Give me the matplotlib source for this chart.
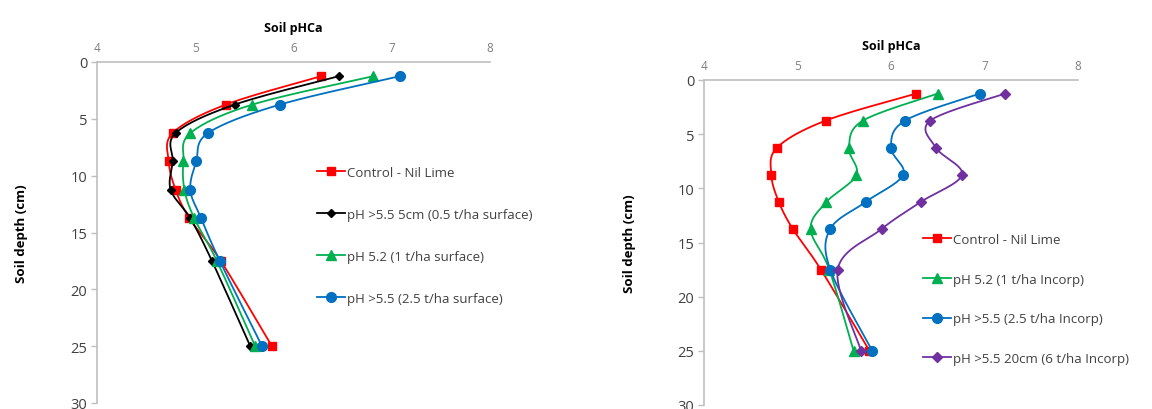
import numpy as np
import matplotlib
matplotlib.use("Agg")
import matplotlib.pyplot as plt
from matplotlib.lines import Line2D

plt.rcParams['font.family'] = ['Open Sans', 'DejaVu Sans']

# sampling depths (cm), shared by both panels
depth = [1.25, 3.75, 6.25, 8.75, 11.25, 13.75, 17.5, 25]

# left panel: surface applied lime
surf_labels = ['Control - Nil Lime', 'pH >5.5 5cm (0.5 t/ha surface)',
               'pH 5.2 (1 t/ha surface)', 'pH >5.5 (2.5 t/ha surface)']
surf_control = [6.28, 5.31, 4.77, 4.73, 4.80, 4.94, 5.26, 5.78]
surf_05 = [6.46, 5.40, 4.80, 4.77, 4.75, 4.95, 5.17, 5.56]
surf_1 = [6.81, 5.58, 4.95, 4.88, 4.89, 4.99, 5.22, 5.61]
surf_25 = [7.08, 5.86, 5.13, 5.01, 4.95, 5.06, 5.25, 5.68]

# right panel: incorporated lime
inc_labels = ['Control - Nil Lime', 'pH 5.2 (1 t/ha Incorp)',
              'pH >5.5 (2.5 t/ha Incorp)', 'pH >5.5 20cm (6 t/ha Incorp)']
inc_control = [6.27, 5.30, 4.78, 4.72, 4.80, 4.95, 5.25, 5.77]
inc_1 = [6.50, 5.70, 5.55, 5.63, 5.31, 5.14, 5.34, 5.60]
inc_25 = [6.95, 6.15, 6.00, 6.13, 5.73, 5.35, 5.35, 5.80]
inc_6 = [7.22, 6.42, 6.48, 6.76, 6.32, 5.90, 5.43, 5.68]

RED, BLACK, GREEN, BLUE, PURPLE = '#ff0000', '#000000', '#00b050', '#0070c0', '#7030a0'
SPINE = '#bfbfbf'


def smooth(x, y, sx, sy, n=30):
    """Catmull-Rom style smoothing in screen space, like Excel smoothed lines"""
    p = np.column_stack([np.array(x) * sx, np.array(y) * sy])
    p = np.vstack([p[0], p, p[-1]])
    out = []
    for i in range(1, len(p) - 2):
        p0, p1, p2, p3 = p[i - 1], p[i], p[i + 1], p[i + 2]
        c1 = p1 + (p2 - p0) / 6.0
        c2 = p2 - (p3 - p1) / 6.0
        t = np.linspace(0, 1, n)[:, None]
        seg = ((1 - t) ** 3) * p1 + 3 * ((1 - t) ** 2) * t * c1 + 3 * (1 - t) * t ** 2 * c2 + t ** 3 * p2
        out.append(seg)
    out = np.vstack(out)
    return out[:, 0] / sx, out[:, 1] / sy


def setup(ax):
    ax.set_xlim(4, 8)
    ax.set_ylim(30, 0)
    ax.xaxis.tick_top()
    ax.xaxis.set_label_position('top')
    ax.set_xticks([4, 5, 6, 7, 8])
    ax.set_yticks([0, 5, 10, 15, 20, 25, 30])
    for s in ['right', 'bottom']:
        ax.spines[s].set_visible(False)
    for s in ['top', 'left']:
        ax.spines[s].set_color(SPINE)
        ax.spines[s].set_linewidth(1.2)
    ax.tick_params(axis='x', length=0, pad=6, labelsize=8.5, labelcolor='#7f7f7f')
    ax.tick_params(axis='y', length=4, width=1, color=SPINE, pad=3, labelsize=10.5, labelcolor='#404040')
    ax.set_xlabel('Soil pHCa', fontsize=9, fontweight='bold', labelpad=7)
    ax.set_ylabel('Soil depth (cm)', fontsize=9.5, fontweight='bold')


def draw(ax, series, labels, styles, sx, sy):
    handles = []
    for vals, lab, (col, mk, ms) in zip(series, labels, styles):
        xs, ys = smooth(vals, depth, sx, sy)
        ax.plot(xs, ys, color=col, lw=1.3, clip_on=False)
        ax.plot(vals, depth, ls='none', marker=mk, ms=ms, color=col, clip_on=False)
        handles.append(Line2D([], [], color=col, lw=1.3, marker=mk, ms=ms))
    return handles


fig = plt.figure(figsize=(11.52, 4.10), dpi=100)

ax1 = fig.add_axes([97 / 1152, 1 - 404 / 410, 393 / 1152, 341 / 410])
setup(ax1)
ax1.yaxis.set_label_coords(-0.175, 0.5)
h1 = draw(ax1, [surf_control, surf_05, surf_1, surf_25], surf_labels,
          [(RED, 's', 6), (BLACK, 'D', 4.5), (GREEN, '^', 6.5), (BLUE, 'o', 7)],
          393 / 4, 341 / 30)
fig.legend(h1, surf_labels, loc='upper left', bbox_to_anchor=(305 / 1152, 1 - 155 / 410),
           frameon=False, handlelength=2.1, handletextpad=0.2, labelspacing=2.2,
           fontsize=9.5, labelcolor='#404040')

ax2 = fig.add_axes([704 / 1152, 1 - 406 / 410, 374 / 1152, 325 / 410])
setup(ax2)
ax2.yaxis.set_label_coords(-0.181, 0.5)
h2 = draw(ax2, [inc_control, inc_1, inc_25, inc_6], inc_labels,
          [(RED, 's', 6), (GREEN, '^', 6.5), (BLUE, 'o', 7), (PURPLE, 'D', 5)],
          374 / 4, 325 / 30)
fig.legend(h2, inc_labels, loc='upper left', bbox_to_anchor=(911 / 1152, 1 - 222 / 410),
           frameon=False, handlelength=2.1, handletextpad=0.2, labelspacing=2.02,
           fontsize=9.5, labelcolor='#404040')

fig.savefig('out.png', dpi=100)
